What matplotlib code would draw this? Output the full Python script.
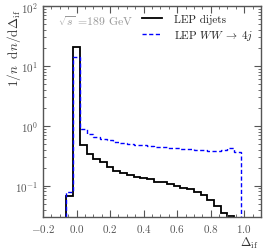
import numpy as np
import matplotlib
matplotlib.use("Agg")
import matplotlib.pyplot as plt
from matplotlib.ticker import MultipleLocator, LogLocator, NullFormatter

plt.rcParams.update({
    "font.family": "serif",
    "font.serif": ["cmr10", "DejaVu Serif"],
    "mathtext.fontset": "cm",
    "axes.formatter.use_mathtext": True,
    "font.size": 8,
})

# histogram bin edges (Delta_if)
edges_dijets = [-0.06, -0.02, 0.02, 0.06, 0.10, 0.14, 0.18, 0.22, 0.26, 0.30,
                0.34, 0.38, 0.42, 0.46, 0.50, 0.54, 0.58, 0.62, 0.66, 0.70,
                0.74, 0.78, 0.82, 0.86, 0.90, 0.94]
edges_ww = edges_dijets + [0.98]

# 1/n dn/dDelta_if
dijets = [0.066, 21.0, 0.48, 0.336, 0.284, 0.244, 0.206, 0.176, 0.160, 0.149,
          0.140, 0.133, 0.128, 0.117, 0.117, 0.108, 0.099, 0.093, 0.087, 0.078,
          0.070, 0.057, 0.046, 0.035, 0.031]
ww4j = [0.079, 14.0, 0.88, 0.73, 0.66, 0.61, 0.57, 0.54, 0.52, 0.50,
        0.485, 0.47, 0.46, 0.45, 0.44, 0.43, 0.42, 0.415, 0.41, 0.40,
        0.39, 0.38, 0.38, 0.40, 0.43, 0.36]

labels = ["LEP dijets", r"LEP $WW\;\rightarrow\;4j$"]
grey = "#555555"

fig = plt.figure(figsize=(2.66, 2.51), dpi=100)
ax = fig.add_axes([0.1617, 0.1315, 0.8193, 0.8405])

ymin = 0.03
ax.stairs(dijets, edges_dijets, baseline=ymin, color="black", lw=1.3, label=labels[0])
ax.stairs(ww4j, edges_ww, baseline=ymin, color="blue", lw=1.0,
          linestyle=(0, (3, 1.8)), label=labels[1])

ax.set_yscale("log")
ax.set_xlim(-0.2, 1.1)
ax.set_ylim(ymin, 100)

ax.xaxis.set_major_locator(MultipleLocator(0.2))
ax.xaxis.set_minor_locator(MultipleLocator(0.05))
ax.yaxis.set_major_locator(LogLocator(base=10, numticks=10))
ax.yaxis.set_minor_locator(LogLocator(base=10, subs=np.arange(2, 10), numticks=20))
ax.yaxis.set_minor_formatter(NullFormatter())

ax.tick_params(which="both", direction="in", top=True, right=True,
               color=grey, labelcolor=grey, labelsize=8)
ax.tick_params(which="major", length=5, width=0.8)
ax.tick_params(which="minor", length=2.5, width=0.6)
for s in ax.spines.values():
    s.set_color(grey)
    s.set_linewidth(1.0)

ax.set_ylabel(r"$1/n\ \ \mathrm{d}n/\mathrm{d}\Delta_{\rm if}$", loc="top",
              color="#333333", fontsize=9.5)
ax.yaxis.set_label_coords(-0.135, 0.99)
ax.yaxis.label.set_verticalalignment("center")
ax.set_xlabel(r"$\Delta_{\rm if}$", loc="right", color="#333333", fontsize=9)
ax.xaxis.set_label_coords(0.99, -0.12)
ax.xaxis.label.set_verticalalignment("center")

ax.text(0.07, 0.935, r"$\sqrt{s}$ =189 GeV", transform=ax.transAxes,
        color="#999999", fontsize=8.5, va="center", ha="left")

leg = ax.legend(loc="upper right", frameon=False, fontsize=8,
                handlelength=1.8, handletextpad=1.1, labelspacing=0.35,
                borderaxespad=0.3)
for t in leg.get_texts():
    t.set_color("#222222")

fig.savefig("out.png", dpi=100)
